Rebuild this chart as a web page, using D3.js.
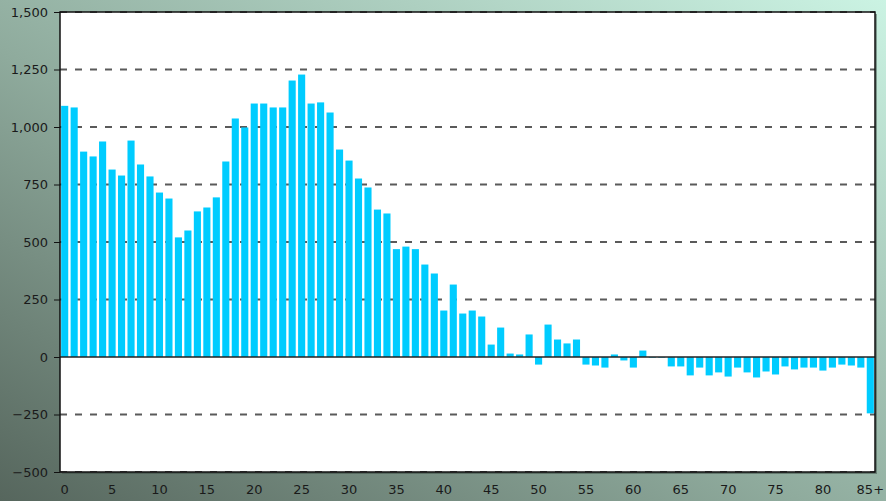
<!DOCTYPE html>
<html>
<head>
  <meta charset="utf-8">
  <title>chart</title>
  <script src="https://d3js.org/d3.v7.min.js"></script>
<style type="text/css">
body { margin: 0; }
svg { display: block; }
.tick text, .lbl { font-family: "DejaVu Sans", Verdana, sans-serif; font-size: 13px; fill: #1a1a1a; }
</style>
</head>
<body>
<svg id="chart" width="886" height="501"></svg>
<script type="text/javascript">

// ages 0..84 plus "85+"
let ages = d3.range(0, 85).map(String).concat(['85+']);

let values = [
  1092, 1085, 893, 872, 937, 815, 789, 941, 837, 785,
  715, 689, 520, 550, 633, 650, 694, 850, 1037, 998,
  1102, 1102, 1085, 1085, 1202, 1228, 1102, 1107, 1063, 902,
  854, 776, 737, 641, 624, 469, 480, 469, 402, 363,
  202, 315, 189, 202, 176, 54, 128, 15, 11, 98,
  -33, 141, 76, 59, 76, -33, -37, -46, 11, -15,
  -46, 28, -3, -3, -41, -41, -80, -46, -80, -67,
  -85, -46, -67, -89, -63, -76, -41, -54, -46, -46,
  -59, -46, -33, -37, -46, -245
];

let yTicks = [-500, -250, 0, 250, 500, 750, 1000, 1250, 1500];
let xLabels = ['0', '5', '10', '15', '20', '25', '30', '35', '40', '45', '50', '55', '60', '65', '70', '75', '80', '85+'];

let svg = d3.select('#chart');
let W = 886, H = 501;
let plot = { left: 60, right: 875, top: 12, bottom: 472 };

// background gradient
let defs = svg.append('defs');
let grad = defs.append('linearGradient')
  .attr('id', 'bg')
  .attr('x1', '0%').attr('y1', '100%')
  .attr('x2', '100%').attr('y2', '0%');
grad.append('stop').attr('offset', '0%').attr('stop-color', '#56665d');
grad.append('stop').attr('offset', '45%').attr('stop-color', '#8fab9d');
grad.append('stop').attr('offset', '100%').attr('stop-color', '#cbf3e3');

svg.append('rect')
  .attr('width', W).attr('height', H)
  .attr('fill', 'url(#bg)');

// plot area with shadow on the right
svg.append('rect')
  .attr('x', plot.left + 2).attr('y', plot.top + 2)
  .attr('width', plot.right - plot.left).attr('height', plot.bottom - plot.top)
  .attr('fill', '#3a4a42').attr('opacity', 0.5);
svg.append('rect')
  .attr('x', plot.left).attr('y', plot.top)
  .attr('width', plot.right - plot.left).attr('height', plot.bottom - plot.top)
  .attr('fill', '#fff');

let x = d3.scaleBand()
  .domain(ages)
  .range([plot.left, plot.right])
  .paddingInner(0.25)
  .paddingOuter(0.12);

let y = d3.scaleLinear()
  .domain([-500, 1500])
  .range([plot.bottom, plot.top]);

// dashed gridlines
svg.append('g')
  .selectAll('line')
  .data(yTicks.filter(d => d !== 0))
  .enter()
  .append('line')
  .attr('x1', plot.left).attr('x2', plot.right)
  .attr('y1', d => y(d)).attr('y2', d => y(d))
  .attr('stroke', '#5a5a5a')
  .attr('stroke-width', 2)
  .attr('stroke-dasharray', '7,8');

// bars
svg.append('g')
  .selectAll('rect')
  .data(values)
  .enter()
  .append('rect')
  .attr('x', (d, i) => x(ages[i]))
  .attr('width', x.bandwidth())
  .attr('y', d => y(Math.max(0, d)))
  .attr('height', d => Math.abs(y(d) - y(0)))
  .attr('fill', '#00ccff');

// zero line
svg.append('line')
  .attr('x1', plot.left).attr('x2', plot.right)
  .attr('y1', y(0)).attr('y2', y(0))
  .attr('stroke', '#222').attr('stroke-width', 1.5);

// frame
svg.append('rect')
  .attr('x', plot.left).attr('y', plot.top)
  .attr('width', plot.right - plot.left).attr('height', plot.bottom - plot.top)
  .attr('fill', 'none')
  .attr('stroke', '#111').attr('stroke-width', 1.5);

// y axis
let yAxis = d3.axisLeft(y)
  .tickValues(yTicks)
  .tickSize(6)
  .tickPadding(6)
  .tickFormat(d3.format(','));

svg.append('g')
  .attr('transform', 'translate(' + plot.left + ',0)')
  .call(yAxis)
  .call(g => g.select('.domain').remove())
  .call(g => g.selectAll('.tick line').attr('stroke', '#111'));

// x axis, label every fifth age
let xAxis = d3.axisBottom(x)
  .tickValues(xLabels)
  .tickSize(0)
  .tickPadding(13);

svg.append('g')
  .attr('transform', 'translate(0,' + plot.bottom + ')')
  .call(xAxis)
  .call(g => g.select('.domain').remove());

</script>
</body>
</html>
